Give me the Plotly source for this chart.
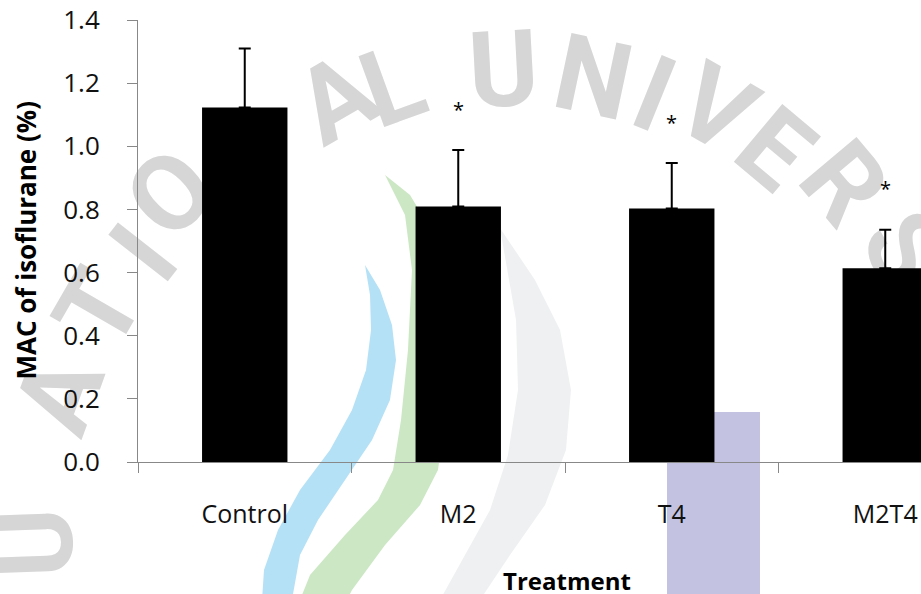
import plotly.graph_objects as go

# ---------------- data ----------------
categories = ["Control", "M2", "T4", "M2T4"]
mac_mean = [1.123, 0.809, 0.803, 0.614]
mac_sd = [0.187, 0.179, 0.144, 0.122]
significant = [False, True, True, True]
y_tick_values = [0.0, 0.2, 0.4, 0.6, 0.8, 1.0, 1.2, 1.4]
y_tick_labels = ["0.0", "0.2", "0.4", "0.6", "0.8", "1.0", "1.2", "1.4"]
x_title = "Treatment"
y_title = "MAC of isoflurane (%)"

# ---------------- geometry helpers (figure pixels -> paper) ----------------
W, H = 921, 594
ML, MT, MB, MR = 138, 20, 132, 0
PW = W - ML - MR
PH = H - MT - MB


def px(x):
    return (x - ML) / PW


def py(y):
    return (H - MB - y) / PH


def poly(points):
    return "M " + " L ".join(f"{px(x):.4f},{py(y):.4f}" for x, y in points) + " Z"


FONT = "Open Sans, Noto Sans, sans-serif"

fig = go.Figure()
fig.add_trace(
    go.Bar(
        x=categories,
        y=mac_mean,
        width=0.4,
        marker=dict(color="black", line=dict(width=0)),
        error_y=dict(
            type="data",
            symmetric=False,
            array=mac_sd,
            arrayminus=[0] * len(mac_sd),
            color="black",
            thickness=2,
            width=6,
        ),
        showlegend=False,
        hoverinfo="skip",
    )
)

# ---------------- background watermark (drawn below everything) ----------------
shapes = []
blue_band = [(365, 265), (380, 290), (392, 325), (396, 360), (390, 400), (372, 440), (345, 480), (318, 520),
             (300, 555), (293, 594), (292, 600),
             (262, 600), (264, 570), (278, 530), (300, 490), (330, 450), (352, 410), (366, 370), (371, 330),
             (370, 295)]
green_band = [(385, 175), (410, 195), (428, 225), (440, 270), (446, 350), (445, 420), (438, 470), (420, 505),
              (385, 545), (352, 590), (347, 600), (300, 600), (310, 575), (345, 535), (378, 500), (393, 470),
              (401, 420), (408, 350), (412, 270), (405, 215)]
gray_band = [(500, 228), (535, 280), (560, 330), (571, 390), (566, 450), (545, 505), (510, 555), (480, 600),
             (440, 600), (465, 555), (490, 510), (508, 455), (518, 390), (516, 320)]
for pts, col in [(gray_band, "#eff0f2"), (blue_band, "#b5e1f6"), (green_band, "#cce7c4")]:
    shapes.append(dict(type="path", xref="paper", yref="paper", path=poly(pts), fillcolor=col,
                       line=dict(width=0), layer="below"))
shapes.append(dict(type="rect", xref="paper", yref="paper", x0=px(667), x1=px(760), y0=py(600), y1=py(412),
                   fillcolor="#c3c3e1", line=dict(width=0), layer="below"))

letters = [("U", 503, 62, -3), ("N", 595, 70, 12), ("I", 657, 87, 22), ("V", 720, 102, 30),
           ("E", 780, 143, 40), ("R", 850, 178, 50), ("S", 912, 245, 60),
           ("L", 390, 78, -20), ("A", 332, 92, -30), ("O", 165, 188, -45), ("I", 138, 248, -52),
           ("T", 92, 305, -60), ("A", 52, 392, -70), ("U", 28, 543, -92)]
for ch, cx, cy, ang in letters:
    shapes.append(dict(type="rect", xref="paper", yref="paper",
                       x0=px(cx - 2), x1=px(cx + 2), y0=py(cy + 2), y1=py(cy - 2),
                       fillcolor="rgba(0,0,0,0)", line=dict(width=0), layer="below",
                       label=dict(text=ch, textangle=ang, textposition="middle center",
                                  font=dict(size=106, color="#d6d6d6", weight="bold", family="Roboto"))))

# ---------------- annotations ----------------
annotations = []
for cat, m, s, sig in zip(categories, mac_mean, mac_sd, significant):
    if sig:
        annotations.append(dict(x=cat, y=m + s, xref="x", yref="y", text="*", showarrow=False,
                                yshift=41, yanchor="middle",
                                font=dict(size=20, color="black", family=FONT)))
annotations.append(dict(x=px(567), y=py(580), xref="paper", yref="paper", text=f"<b>{x_title}</b>",
                        showarrow=False, xanchor="center", yanchor="middle",
                        font=dict(size=24, color="black", family=FONT)))
annotations.append(dict(x=px(25.5), y=0.5, xref="paper", yref="paper", text=f"<b>{y_title}</b>",
                        showarrow=False, xanchor="center", yanchor="middle", textangle=-90,
                        font=dict(size=26, color="black", family=FONT)))

n = len(categories)
fig.update_layout(
    width=W,
    height=H,
    margin=dict(l=ML, r=MR, t=MT, b=MB, pad=0),
    paper_bgcolor="white",
    plot_bgcolor="rgba(0,0,0,0)",
    shapes=shapes,
    annotations=annotations,
    xaxis=dict(
        type="category",
        categoryorder="array",
        categoryarray=categories,
        range=[-0.5, n - 0.5 - (992 - 921) / 213.5],
        tickson="boundaries",
        ticks="outside",
        ticklen=10,
        tickwidth=1,
        tickcolor="#888888",
        showline=True,
        linecolor="#888888",
        linewidth=1,
        showgrid=False,
        zeroline=False,
        ticklabelstandoff=30,
        tickfont=dict(size=25, color="#111111", family=FONT),
        fixedrange=True,
    ),
    yaxis=dict(
        range=[0, 1.4],
        tickvals=y_tick_values,
        ticktext=y_tick_labels,
        ticks="outside",
        ticklen=10,
        tickwidth=1,
        tickcolor="#888888",
        showline=True,
        linecolor="#888888",
        linewidth=1,
        showgrid=False,
        zeroline=False,
        ticklabelstandoff=22,
        tickfont=dict(size=26, color="#111111", family=FONT),
        fixedrange=True,
    ),
)

fig.write_html("out.html", config={"displayModeBar": False},
               post_script="document.body.style.margin='0';document.body.style.overflow='hidden';")
